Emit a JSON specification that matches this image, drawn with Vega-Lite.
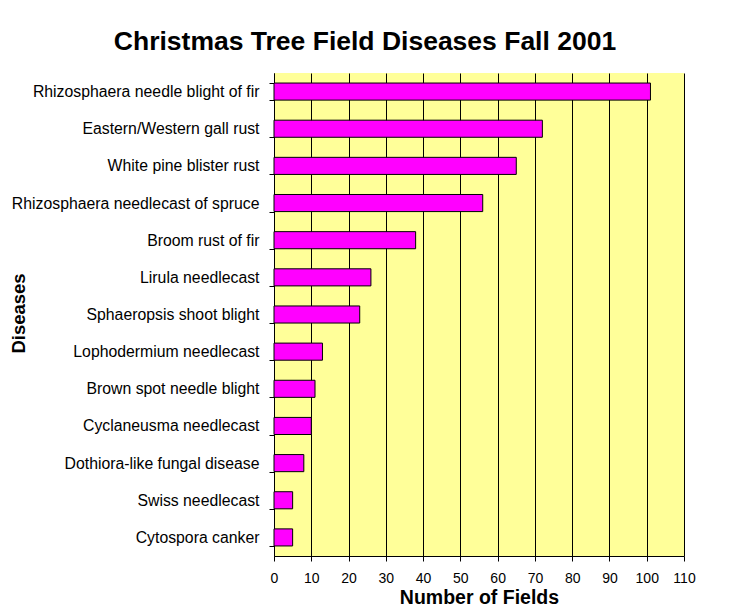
{
  "$schema": "https://vega.github.io/schema/vega-lite/v6.json",
  "width": 410,
  "height": 483,
  "autosize": {"type": "none"},
  "padding": {"left": 274, "top": 73, "right": 45, "bottom": 57},
  "background": "white",
  "title": {
    "text": "Christmas Tree Field Diseases Fall 2001",
    "font": "Liberation Sans",
    "fontSize": 26.5,
    "fontWeight": "bold",
    "color": "black",
    "anchor": "middle",
    "dx": -114,
    "offset": 10
  },
  "data": {
    "values": [
      {"disease": "Rhizosphaera needle blight of fir", "fields": 101},
      {"disease": "Eastern/Western gall rust", "fields": 72},
      {"disease": "White pine blister rust", "fields": 65},
      {"disease": "Rhizosphaera needlecast of spruce", "fields": 56},
      {"disease": "Broom rust of fir", "fields": 38},
      {"disease": "Lirula needlecast", "fields": 26},
      {"disease": "Sphaeropsis shoot blight", "fields": 23},
      {"disease": "Lophodermium needlecast", "fields": 13},
      {"disease": "Brown spot needle blight", "fields": 11},
      {"disease": "Cyclaneusma needlecast", "fields": 10},
      {"disease": "Dothiora-like fungal disease", "fields": 8},
      {"disease": "Swiss needlecast", "fields": 5},
      {"disease": "Cytospora canker", "fields": 5}
    ]
  },
  "mark": {"type": "bar", "fill": "#FF00FF", "stroke": "black", "strokeWidth": 1},
  "encoding": {
    "y": {
      "field": "disease",
      "type": "nominal",
      "sort": null,
      "scale": {"paddingInner": 0.54, "paddingOuter": 0.27},
      "axis": {
        "title": "Diseases",
        "titleFont": "Liberation Sans",
        "titleFontSize": 18.5,
        "titleFontWeight": "bold",
        "titleColor": "black",
        "titleX": -246,
        "titleY": 240,
        "titleAngle": -90,
        "titleBaseline": "bottom",
        "titleAnchor": "middle",
        "labelFont": "Liberation Sans",
        "labelFontSize": 15.8,
        "labelColor": "black",
        "labelPadding": 10,
        "labelLimit": 300,
        "tickBand": "extent",
        "tickSize": 5,
        "tickColor": "black",
        "domainColor": "black",
        "grid": false
      }
    },
    "x": {
      "field": "fields",
      "type": "quantitative",
      "scale": {"domain": [0, 110], "nice": false},
      "axis": {
        "title": "Number of Fields",
        "titleFont": "Liberation Sans",
        "titleFontSize": 19.5,
        "titleFontWeight": "bold",
        "titleColor": "black",
        "titlePadding": 3,
        "values": [0, 10, 20, 30, 40, 50, 60, 70, 80, 90, 100, 110],
        "labelFont": "Liberation Sans",
        "labelFontSize": 14,
        "labelColor": "black",
        "labelPadding": 10,
        "labelFlush": false,
        "tickSize": 5,
        "tickColor": "black",
        "domainColor": "black",
        "grid": true,
        "gridColor": "black",
        "gridOpacity": 1,
        "gridWidth": 1
      }
    }
  },
  "config": {
    "view": {"fill": "#FFFF99", "stroke": null}
  }
}
